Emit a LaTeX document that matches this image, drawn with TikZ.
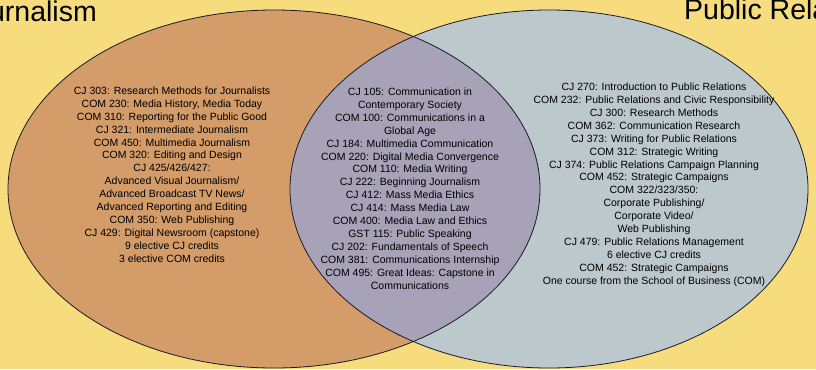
\documentclass[tikz,border=0pt]{standalone}
\usepackage{fontspec}
\setmainfont{Liberation Sans}
\begin{document}
\begin{tikzpicture}[x=1bp,y=-1bp,
  list/.style={align=center,inner sep=0pt,font=\fontsize{10.5bp}{12.9bp}\selectfont},
  title/.style={inner sep=0pt,font=\fontsize{28.5bp}{31bp}\selectfont}]
\definecolor{bgyellow}{HTML}{F6DC7C}
\definecolor{orangeset}{HTML}{D49C69}
\definecolor{blueset}{HTML}{BCC8CC}
\definecolor{mixset}{HTML}{A8A2B8}
\definecolor{edgeline}{HTML}{1A1A2A}
\useasboundingbox (0,0) rectangle (816,369);
\fill[bgyellow] (0,0) rectangle (816,369);
\fill[orangeset] (274,189) ellipse [x radius=266, y radius=179];
\fill[blueset] (549,189) ellipse [x radius=259, y radius=179];
\begin{scope}
  \clip (274,189) ellipse [x radius=266, y radius=179];
  \fill[mixset] (549,189) ellipse [x radius=259, y radius=179];
\end{scope}
\draw[edgeline,line width=0.8bp] (274,189) ellipse [x radius=266, y radius=179];
\draw[edgeline,line width=0.8bp] (549,189) ellipse [x radius=259, y radius=179];
\node[title,anchor=base east] (tj) at (97,21) {Journalism};
\node[title,anchor=base west] (tp) at (684,19.5) {Public Relations};
\node[list] (left) at (172,174.5) {CJ 303: Research Methods for Journalists\\
COM 230: Media History, Media Today\\
COM 310: Reporting for the Public Good\\
CJ 321: Intermediate Journalism\\
COM 450: Multimedia Journalism\\
COM 320: Editing and Design\\
CJ 425/426/427:\\
Advanced Visual Journalism/\\
Advanced Broadcast TV News/\\
Advanced Reporting and Editing\\
COM 350: Web Publishing\\
CJ 429: Digital Newsroom (capstone)\\
9 elective CJ credits\\
3 elective COM credits};
\node[list] (mid) at (410,188.5) {CJ 105: Communication in\\
Contemporary Society\\
COM 100: Communications in a\\
Global Age\\
CJ 184: Multimedia Communication\\
COM 220: Digital Media Convergence\\
COM 110: Media Writing\\
CJ 222: Beginning Journalism\\
CJ 412: Mass Media Ethics\\
CJ 414: Mass Media Law\\
COM 400: Media Law and Ethics\\
GST 115: Public Speaking\\
CJ 202: Fundamentals of Speech\\
COM 381: Communications Internship\\
COM 495: Great Ideas: Capstone in\\
Communications};
\node[list] (right) at (654,184.7) {CJ 270: Introduction to Public Relations\\
COM 232: Public Relations and Civic Responsibility\\
CJ 300: Research Methods\\
COM 362: Communication Research\\
CJ 373: Writing for Public Relations\\
COM 312: Strategic Writing\\
CJ 374: Public Relations Campaign Planning\\
COM 452: Strategic Campaigns\\
COM 322/323/350:\\
Corporate Publishing/\\
Corporate Video/\\
Web Publishing\\
CJ 479: Public Relations Management\\
6 elective CJ credits\\
COM 452: Strategic Campaigns\\
One course from the School of Business (COM)};
\end{tikzpicture}
\end{document}
